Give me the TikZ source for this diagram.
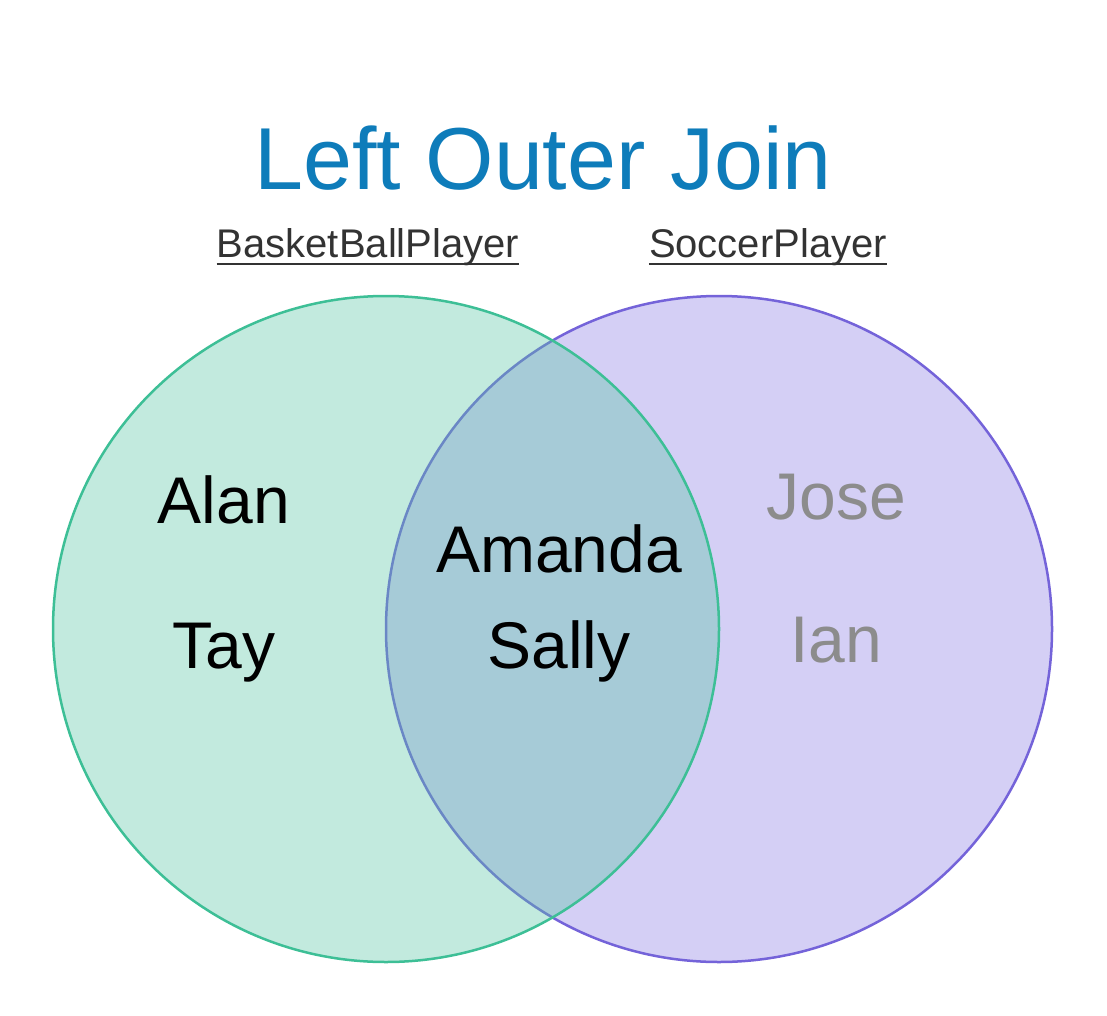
\documentclass[tikz,border=0pt]{standalone}
\usepackage{fontspec}
\setmainfont{Liberation Sans}
\definecolor{titleblue}{RGB}{14,124,186}
\definecolor{labelgray}{RGB}{51,51,51}
\definecolor{namegray}{RGB}{140,140,140}
\definecolor{setgreen}{RGB}{89,197,165}
\definecolor{edgegreen}{RGB}{61,191,150}
\definecolor{setpurple}{RGB}{212,207,245}
\definecolor{edgepurple}{RGB}{116,99,217}
\tikzset{
	setname/.style={anchor=base,inner xsep=0pt,font=\fontsize{40}{46}\selectfont,text=labelgray},
	underbar/.style={draw=labelgray,line width=2.6pt},
	member/.style={anchor=base,font=\fontsize{66}{78}\selectfont},
	outside/.style={member,text=namegray}
}
\begin{document}
\begin{tikzpicture}[x=1pt,y=-1pt]
	\useasboundingbox (0,0) rectangle (1107,1016);

	\begin{scope}[line width=2.5pt]
		\draw[draw=edgepurple,fill=setpurple] (719,629) circle (333);
		\draw[draw=edgegreen,fill=setgreen,fill opacity=.37] (386,629) circle (333);
	\end{scope}

	\begin{scope}
		\node[anchor=base,font=\fontsize{88}{100}\selectfont,text=titleblue] (title) at (543,190) {Left Outer Join};
		\node[setname] (basket) at (368,258) {BasketBallPlayer};
		\node[setname] (soccer) at (768,258) {SoccerPlayer};
		\draw[underbar] ([yshift=-6pt]basket.base west) -- ([yshift=-6pt]basket.base east);
		\draw[underbar] ([yshift=-6pt]soccer.base west) -- ([yshift=-6pt]soccer.base east);
	\end{scope}

	\begin{scope}
		\node[member] (alan) at (224,523) {Alan};
		\node[member] (tay) at (224,668) {Tay};
		\node[member] (amanda) at (559,572) {Amanda};
		\node[member] (sally) at (559,668) {Sally};
		\node[outside] (jose) at (836,519) {Jose};
		\node[outside] (ian) at (836,662) {Ian};
	\end{scope}
\end{tikzpicture}
\end{document}
